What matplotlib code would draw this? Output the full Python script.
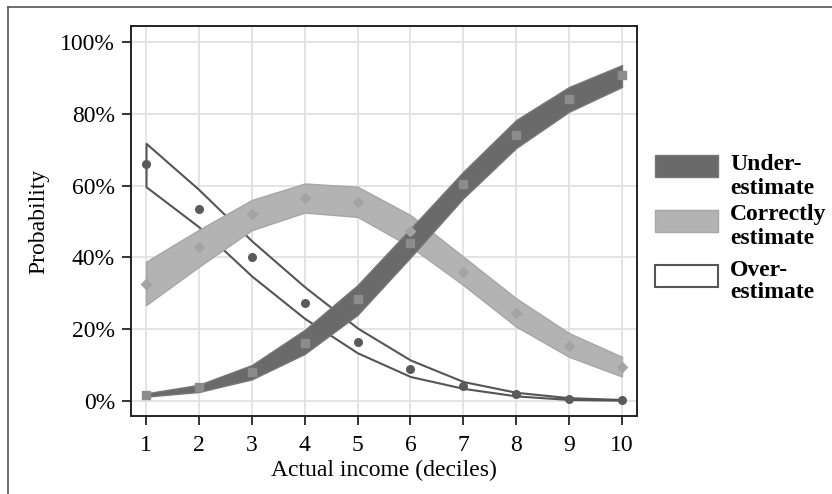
import matplotlib
matplotlib.use("Agg")
import matplotlib.pyplot as plt
from matplotlib.patches import Rectangle
from matplotlib.lines import Line2D
from matplotlib.ticker import FuncFormatter

plt.rcParams['font.family'] = ['Liberation Serif', 'DejaVu Serif']

deciles = [1, 2, 3, 4, 5, 6, 7, 8, 9, 10]

under_pt = [0.017, 0.038, 0.082, 0.162, 0.283, 0.441, 0.604, 0.741, 0.841, 0.908]
under_lo = [0.012, 0.025, 0.060, 0.131, 0.240, 0.400, 0.565, 0.705, 0.806, 0.875]
under_hi = [0.021, 0.045, 0.100, 0.198, 0.323, 0.480, 0.639, 0.783, 0.875, 0.936]

correct_pt = [0.326, 0.428, 0.520, 0.566, 0.555, 0.474, 0.360, 0.244, 0.154, 0.094]
correct_lo = [0.267, 0.374, 0.476, 0.525, 0.513, 0.430, 0.323, 0.207, 0.123, 0.068]
correct_hi = [0.388, 0.477, 0.560, 0.606, 0.597, 0.518, 0.402, 0.286, 0.189, 0.123]

over_pt = [0.660, 0.536, 0.402, 0.274, 0.165, 0.088, 0.043, 0.019, 0.006, 0.003]
over_lo = [0.597, 0.485, 0.348, 0.230, 0.134, 0.068, 0.035, 0.014, 0.004, 0.002]
over_hi = [0.718, 0.589, 0.446, 0.318, 0.203, 0.114, 0.054, 0.024, 0.009, 0.004]

y_ticks = [0, 0.2, 0.4, 0.6, 0.8, 1.0]
legend_labels = [["Under-", "estimate"], ["Correctly", "estimate"], ["Over-", "estimate"]]

W, H = 832, 494
FS = 17
fig = plt.figure(figsize=(W / 100, H / 100), dpi=100)
ax = fig.add_axes([131 / W, 1 - 416 / H, (637 - 131) / W, (416 - 26) / H])

ax.set_xlim(0.716, 10.284)
ax.set_ylim(-0.042, 1.045)

ax.set_xticks(deciles)
ax.set_yticks(y_ticks)
ax.yaxis.set_major_formatter(FuncFormatter(lambda v, p: f"{int(round(v * 100))}%"))
ax.grid(True, color='#e2e2e2', linewidth=1.3, zorder=0)
ax.set_axisbelow(True)

for s in ax.spines.values():
    s.set_linewidth(1.4)
    s.set_color('#222222')

ax.tick_params(axis='both', direction='out', length=6.5, width=1.3, color='#222222',
               labelsize=FS, pad=5)
ax.tick_params(axis='x', pad=7)

# Over-estimate band (outline only)
ax.fill_between(deciles, over_lo, over_hi, facecolor='white', edgecolor='#555555',
                linewidth=1.5, zorder=2)
ax.plot(deciles, over_pt, 'o', color='#5a5a5a', markersize=5.5, zorder=6)

# Correctly band
ax.fill_between(deciles, correct_lo, correct_hi, facecolor='#b3b3b3', edgecolor='#a6a6a6',
                linewidth=1.0, zorder=3)
ax.plot(deciles, correct_pt, 'D', color='#a3a3a3', markersize=5, zorder=6)

# Under band
ax.fill_between(deciles, under_lo, under_hi, facecolor='#6a6a6a', edgecolor='#777777',
                linewidth=1.0, zorder=4)
ax.plot(deciles, under_pt, 's', color='#8c8c8c', markersize=5.5, zorder=6)

ax.set_xlabel("Actual income (deciles)", fontsize=FS, labelpad=3)
ax.set_ylabel("Probability", fontsize=FS, labelpad=8)

# Legend drawn manually in figure pixel coordinates
def fx(px):
    return px / W

def fy(py):
    return 1 - py / H

styles = [
    dict(facecolor='#6a6a6a', edgecolor='#777777', lw=1.0),
    dict(facecolor='#b3b3b3', edgecolor='#a6a6a6', lw=1.0),
    dict(facecolor='white', edgecolor='#555555', lw=1.5),
]
rect_tops = [155, 210, 265]
baselines = [(170, 193.5), (220, 243.5), (276, 298.5)]
for st, top, bl, lab in zip(styles, rect_tops, baselines, legend_labels):
    fig.add_artist(Rectangle((fx(655), fy(top + 22)), fx(718) - fx(655), 22 / H,
                             transform=fig.transFigure, **st))
    fig.text(fx(730), fy(bl[0]), lab[0], fontsize=FS, fontweight='bold', va='baseline', ha='left')
    fig.text(fx(730), fy(bl[1]), lab[1], fontsize=FS, fontweight='bold', va='baseline', ha='left')

# Outer frame (left and top edges visible)
fig.add_artist(Line2D([fx(8), fx(8)], [fy(7), 0], transform=fig.transFigure,
                      color='#555555', linewidth=1.2))
fig.add_artist(Line2D([fx(8), 1], [fy(7), fy(7)], transform=fig.transFigure,
                      color='#555555', linewidth=1.2))

fig.savefig("out.png", dpi=100)
